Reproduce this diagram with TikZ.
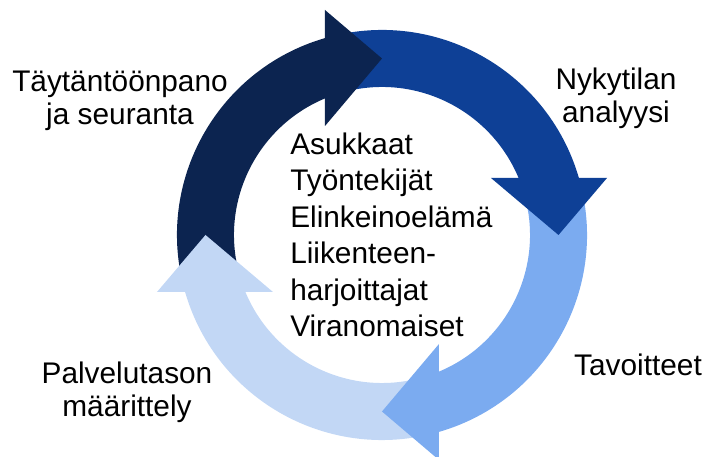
\documentclass[tikz,border=0pt]{standalone}
\usepackage{fontspec}
\setmainfont{Liberation Sans}
\definecolor{navy}{HTML}{0C2450}
\definecolor{deep}{HTML}{0E4096}
\definecolor{sky}{HTML}{7BABF0}
\definecolor{pale}{HTML}{C2D7F5}
\usepackage{tikz}
\usetikzlibrary{calc}
\tikzset{
  lbl_out/.style={inner sep=0pt,anchor=base,align=center,
    font=\fontsize{21.2}{23.5}\selectfont},
  lbl_mid/.style={inner sep=0pt,anchor=base west,align=left,
    font=\fontsize{21.2}{26}\selectfont},
}

\begin{document}
\begin{tikzpicture}[x=0.025cm,y=0.025cm]
    \useasboundingbox (-382,-222) rectangle (323,235);
    % ring bodies first, heads on top
    \foreach \t/\c in {90/navy,0/deep,-90/sky,-180/pale}
      \fill[\c] (\t+106.1:205) arc[start angle=\t+106.1,end angle=\t+16.1,radius=205]
        -- (\t+16.1:148) arc[start angle=\t+16.1,end angle=\t+106.1,radius=148] -- cycle;
    \foreach \t/\c in {90/navy,0/deep,-90/sky,-180/pale}
      \fill[\c,rotate=\t] (176.5,0) -- (109,57) -- (225,57) -- cycle;

    \node[lbl_mid] (groups) at (-92,-102) {Asukkaat\\Työntekijät\\Elinkeinoelämä\\Liikenteen-\\harjoittajat\\Viranomaiset};

    \node[lbl_out] (impl) at (-262,110) {Täytäntöönpano\\ja seuranta};
    \node[lbl_out] (state) at (234,112) {Nykytilan\\analyysi};
    \node[lbl_out] (goals) at (256,-141) {Tavoitteet};
    \node[lbl_out] (level) at (-255,-182) {Palvelutason\\määrittely};
  \end{tikzpicture}
\end{document}
